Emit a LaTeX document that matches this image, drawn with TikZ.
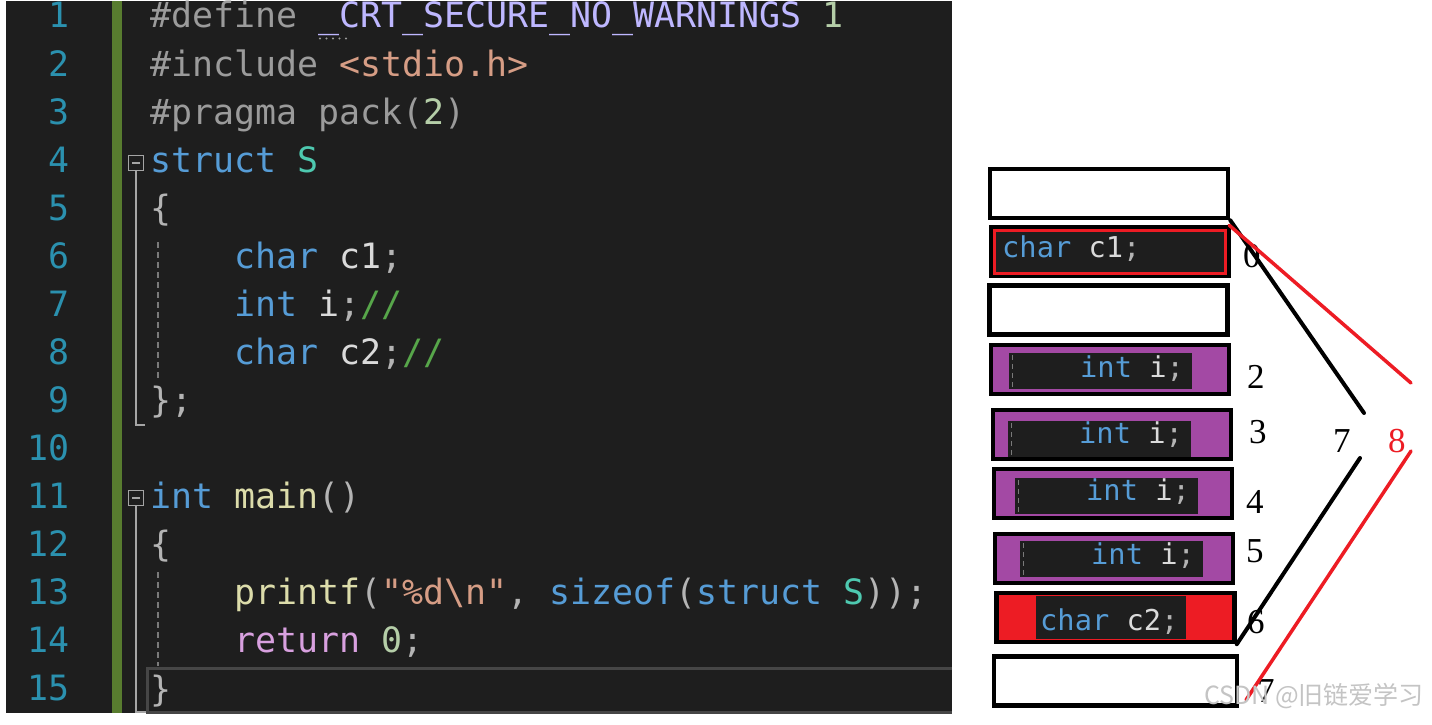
\documentclass[tikz,border=0pt]{standalone}
\usepackage{fontspec}
\setmainfont{Liberation Serif}
\newfontfamily\codefont{DejaVu Sans Mono}
\newfontfamily\cjkfont{Noto Sans CJK SC}
\definecolor{codebg}{HTML}{1E1E1E}
\definecolor{lnum}{HTML}{2B91AF}
\definecolor{changebar}{HTML}{587C2F}
\definecolor{kw}{HTML}{569CD6}
\definecolor{typ}{HTML}{4EC9B0}
\definecolor{pre}{HTML}{9B9B9B}
\definecolor{macro}{HTML}{BEB7FF}
\definecolor{num}{HTML}{B5CEA8}
\definecolor{str}{HTML}{D69D85}
\definecolor{punct}{HTML}{B4B4B4}
\definecolor{ident}{HTML}{DADADA}
\definecolor{cmt}{HTML}{57A64A}
\definecolor{fn}{HTML}{DCDCAA}
\definecolor{ctl}{HTML}{D8A0DF}
\definecolor{foldgray}{HTML}{A5A5A5}
\definecolor{dashgray}{HTML}{7A7A7A}
\definecolor{curline}{HTML}{464646}
\definecolor{intfill}{HTML}{A349A4}
\definecolor{markred}{HTML}{ED1C24}
\definecolor{wmark}{RGB}{196,196,196}
\newcommand{\tk}[2]{\textcolor{#1}{#2}}
\tikzset{
  codeline/.style={anchor=base west, inner sep=0pt, font=\codefont\fontsize{34.9}{40}\selectfont},
  numcol/.style={anchor=base east, inner sep=0pt, text=lnum, font=\codefont\fontsize{34.9}{40}\selectfont},
  foldline/.style={draw=foldgray, line width=1.5pt},
  indentline/.style={draw=dashgray, line width=1.5pt, dash pattern=on 6pt off 4pt},
  cell/.style={draw=black, line width=4.5pt, minimum width=238pt, minimum height=49pt, inner sep=0pt},
  codecrop/.style={fill=codebg, inner sep=0pt, minimum width=183pt, minimum height=36pt},
  croptext/.style={anchor=base west, inner sep=0pt, font=\codefont\fontsize{28.7}{32}\selectfont},
  bytenum/.style={anchor=base west, inner sep=0pt, font=\fontsize{35}{40}\selectfont},
  brace/.style={line width=4pt, line cap=round},
}
\begin{document}
\begin{tikzpicture}[x=1pt,y=-1pt]
\useasboundingbox (0,0) rectangle (1432,725);
\fill[white] (0,0) rectangle (1432,725);
% editor
\fill[codebg] (6,1) rectangle (952,713);
\fill[changebar] (112,1) rectangle (122,713);
\foreach \n in {1,...,15}
\node[numcol] (ln\n) at (70,{28+48.07*(\n-1)}) {\n};
% folding and guides
\draw[foldline] (128.5,155.5) rectangle (143.5,170.5);
\draw[foldline] (132,163) -- (140,163);
\draw[foldline] (136,170.5) -- (136,425) -- (145,425);
\draw[foldline] (128.5,490.5) rectangle (143.5,505.5);
\draw[foldline] (132,498) -- (140,498);
\draw[foldline] (136,505.5) -- (136,712) -- (147,712);
\draw[indentline] (158,242) -- (158,378);
\draw[indentline] (158,572) -- (158,666);
\draw[curline, line width=3pt] (952,668) -- (147,668) -- (147,712) -- (952,712);
\foreach \d in {0,...,4}
\fill[pre] (320+6.5*\d,38.5) circle (1.2);
% source text
\node[codeline] (src1) at (150,28) {\tk{pre}{\#define} \tk{macro}{\_CRT\_SECURE\_NO\_WARNINGS} \tk{num}{1}};
\node[codeline] (src2) at (150,76.07) {\tk{pre}{\#include} \tk{str}{<stdio.h>}};
\node[codeline] (src3) at (150,124.14) {\tk{pre}{\#pragma pack(}\tk{num}{2}\tk{pre}{)}};
\node[codeline] (src4) at (150,172.2) {\tk{kw}{struct} \tk{typ}{S}};
\node[codeline] (src5) at (150,220.3) {\tk{punct}{\{}};
\node[codeline] (src6) at (234,268.4) {\tk{kw}{char} \tk{ident}{c1}\tk{punct}{;}};
\node[codeline] (src7) at (234,316.4) {\tk{kw}{int} \tk{ident}{i}\tk{punct}{;}\tk{cmt}{//}};
\node[codeline] (src8) at (234,364.5) {\tk{kw}{char} \tk{ident}{c2}\tk{punct}{;}\tk{cmt}{//}};
\node[codeline] (src9) at (150,412.6) {\tk{punct}{\};}};
\node[codeline] (src11) at (150,508.7) {\tk{kw}{int} \tk{fn}{main}\tk{punct}{()}};
\node[codeline] (src12) at (150,556.8) {\tk{punct}{\{}};
\node[codeline] (src13) at (234,604.8) {\tk{fn}{printf}\tk{punct}{(}\tk{str}{"\%d\textbackslash n"}\tk{punct}{,} \tk{kw}{sizeof}\tk{punct}{(}\tk{kw}{struct} \tk{typ}{S}\tk{punct}{));}};
\node[codeline] (src14) at (234,652.9) {\tk{ctl}{return} \tk{num}{0}\tk{punct}{;}};
\node[codeline] (src15) at (150,701) {\tk{punct}{\}}};
% memory layout
\node[cell] (pad0) at (1109,193.5) {};
\node[cell, fill=codebg] (c1cell) at (1110,251.5) {};
\node[draw=markred, line width=3pt, fill=codebg, minimum width=231pt, minimum height=43pt, inner sep=0pt] (c1mark) at (1110,252) {};
\node[croptext] (c1txt) at (1002,257) {\tk{kw}{char} \tk{ident}{c1}\tk{punct}{;}};
\node[cell] (pad1) at (1108.5,310) {};
\foreach \n/\cx/\cy/\kx/\ky/\tx/\ty in {2/1110/369.5/1100.5/371/1080/377, 3/1112/434.5/1099.5/439/1079/443, 4/1113/493.5/1106.5/496/1086/500, 5/1114/558.5/1111.5/559/1091/564}
{
\node[cell, fill=intfill] (int\n) at (\cx,\cy) {};
\node[codecrop] (crop\n) at (\kx,\ky) {};
\draw[indentline, line width=1.2pt, dash pattern=on 5pt off 4pt] ([xshift=4pt,yshift=-2pt]crop\n.north west) -- ([xshift=4pt,yshift=2pt]crop\n.south west);
\node[croptext] (itxt\n) at (\tx,\ty) {\tk{kw}{int} \tk{ident}{i}\tk{punct}{;}};
}
\node[cell, fill=markred] (c2cell) at (1115.5,617.5) {};
\node[codecrop, minimum width=150pt, minimum height=43pt] (c2crop) at (1111,617.5) {};
\node[croptext] (c2txt) at (1040,630) {\tk{kw}{char} \tk{ident}{c2}\tk{punct}{;}};
\node[cell, minimum width=243pt] (pad7) at (1115.5,681) {};
% offsets
\node[bytenum] (off0) at (1243,267) {0};
\node[bytenum] (off2) at (1247,388) {2};
\node[bytenum] (off3) at (1249,443) {3};
\node[bytenum] (off4) at (1246,513) {4};
\node[bytenum] (off5) at (1246,562) {5};
\node[bytenum] (off6) at (1247,633) {6};
\node[bytenum] (off7) at (1257,702) {7};
\node[bytenum] (sum7) at (1333,452) {7};
\node[bytenum, text=markred] (sum8) at (1388,452) {8};
% brackets
\coordinate (k7top) at (1364,413);
\coordinate (k7bot) at (1360,458);
\coordinate (k8top) at (1411,383);
\coordinate (k8bot) at (1411,451);
\coordinate (k8end) at (1246,700);
\draw[brace] (pad0.south east) -- (k7top);
\draw[brace] (c2cell.south east) -- (k7bot);
\draw[brace, markred, line width=3.5pt] ([xshift=-1pt,yshift=-5pt]pad0.south east) -- (k8top);
\draw[brace, markred, line width=3.5pt] (k8bot) -- (k8end);
\node[anchor=base east, inner sep=0pt, text=wmark, font=\cjkfont\fontsize{25}{30}\selectfont] (wm) at (1424,704) {CSDN @旧链爱学习};
\end{tikzpicture}
\end{document}
